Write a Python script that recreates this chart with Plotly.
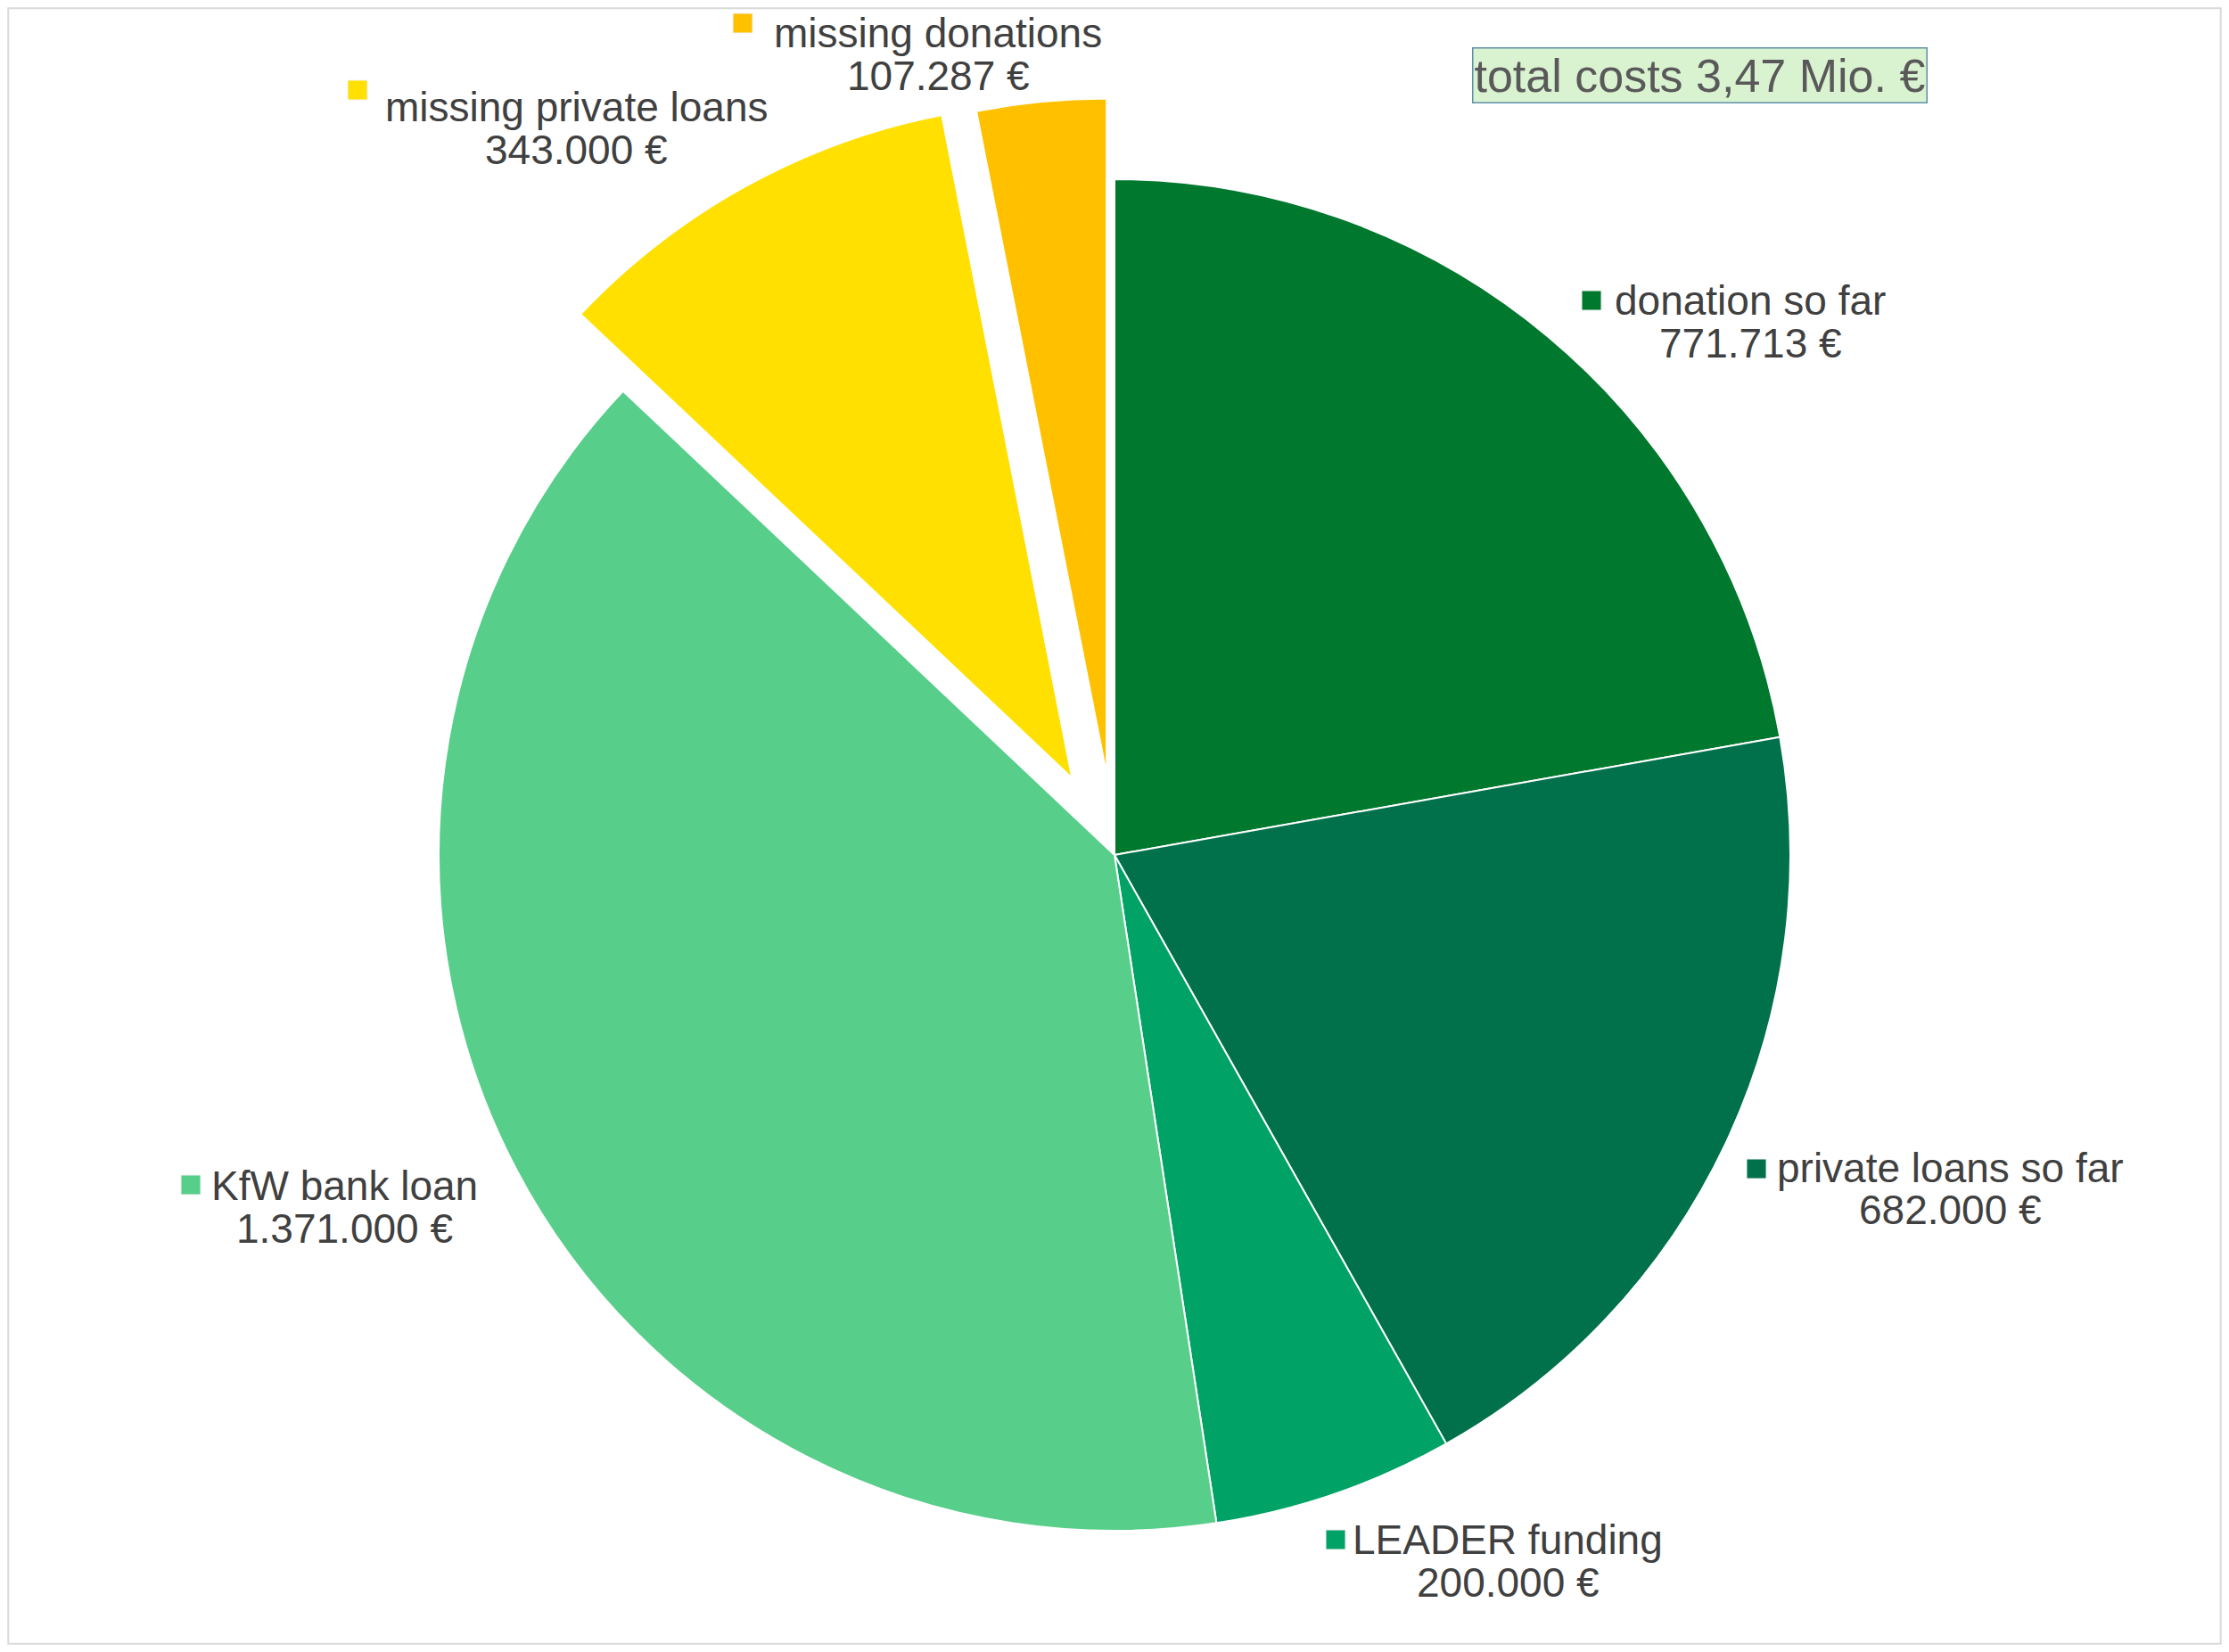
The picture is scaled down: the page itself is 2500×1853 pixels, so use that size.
import plotly.graph_objects as go

# funding structure of the project (values in euro)
labels = ["donation so far", "private loans so far", "LEADER funding",
          "KfW bank loan", "missing private loans", "missing donations"]
amounts = [771713, 682000, 200000, 1371000, 343000, 107287]
total_text = "total costs 3,47 Mio. €"

colors = ["#00782E", "#00714A", "#00A266", "#57CE8A", "#FFE000", "#FFC000"]
pulls = [0, 0, 0, 0, 0.13, 0.12]

# page is 2500x1853, the body has an 8px margin
PAGE_W, PAGE_H, OFF = 2500, 1853, 8
W, H = PAGE_W - 2 * OFF, PAGE_H - 2 * OFF

# label layout in page pixels: text centre x, line1 y, line2 y, marker x, marker y
label_layout = [
    (1963, 337, 385, 1785, 337),
    (2187, 1310, 1357, 1970, 1311),
    (1691, 1727, 1775, 1498, 1727),
    (386, 1330, 1378, 214, 1329),
    (647, 120, 168, 401, 101),
    (1052, 37, 85, 833, 26),
]


def px(x):
    return (x - OFF) / W


def py(y):
    return 1 - (y - OFF) / H


def euro(v):
    return "{:,}".format(v).replace(",", ".") + " €"


# pie centre and radius as in the reference
cx, cy, r = 1250, 959, 758
half = r * (1 + max(pulls))

fig = go.Figure(go.Pie(
    labels=labels,
    values=amounts,
    sort=False,
    direction="clockwise",
    rotation=0,
    pull=pulls,
    marker=dict(colors=colors, line=dict(color="white", width=2)),
    textinfo="none",
    hoverinfo="label+value",
    showlegend=False,
    domain=dict(x=[px(cx - half), px(cx + half)],
                y=[py(cy + half), py(cy - half)]),
))

annotations = []
shapes = []
txt_font = dict(family="Liberation Sans, Arial, sans-serif", size=46, color="#404040")
for i, name in enumerate(labels):
    tx, y1, y2, mx, my = label_layout[i]
    annotations.append(dict(x=px(tx), y=py(y1), xref="paper", yref="paper",
                            text=name, showarrow=False, xanchor="center",
                            yanchor="middle", font=txt_font))
    annotations.append(dict(x=px(tx), y=py(y2), xref="paper", yref="paper",
                            text=euro(amounts[i]), showarrow=False, xanchor="center",
                            yanchor="middle", font=txt_font))
    shapes.append(dict(type="rect", xref="paper", yref="paper",
                       x0=px(mx - 11), x1=px(mx + 11), y0=py(my + 11), y1=py(my - 11),
                       fillcolor=colors[i], line=dict(color="#F2F2F2", width=1)))

# total costs box
annotations.append(dict(x=px(1907), y=py(84), xref="paper", yref="paper",
                        text=total_text, showarrow=False, xanchor="center", yanchor="middle",
                        font=dict(family="Liberation Sans, Arial, sans-serif", size=52, color="#595959"),
                        bgcolor="#D9F2D0", bordercolor="#5E8FA8", borderwidth=1.5, borderpad=1))

# outer frame of the chart area (as close to the page edge as the svg allows)
shapes.append(dict(type="rect", xref="paper", yref="paper",
                   x0=0.0005, x1=0.9995, y0=0.0007, y1=0.9993,
                   line=dict(color="#D9D9D9", width=2), fillcolor="rgba(0,0,0,0)"))

fig.update_layout(
    width=W, height=H,
    margin=dict(l=0, r=0, t=0, b=0),
    paper_bgcolor="white",
    plot_bgcolor="white",
    annotations=annotations,
    shapes=shapes,
)

fig.write_html("out.html")
